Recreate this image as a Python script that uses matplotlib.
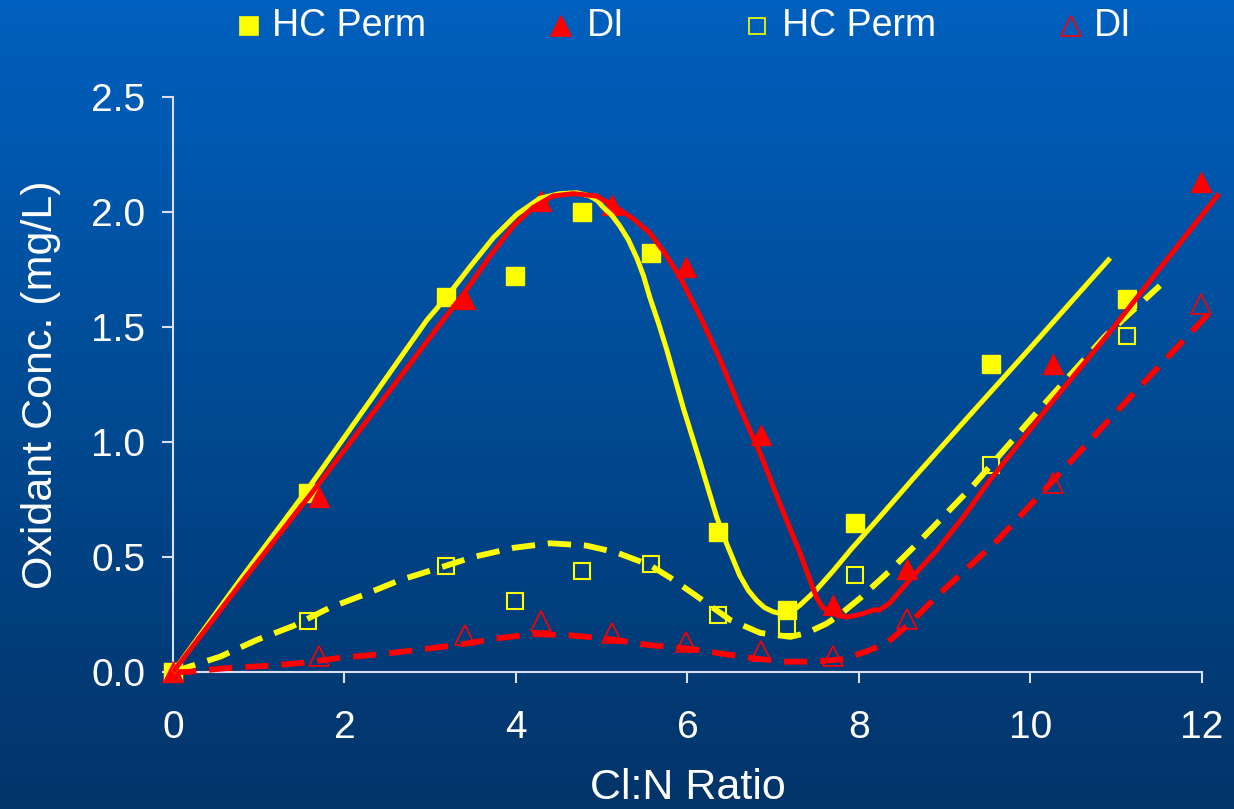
import numpy as np
import matplotlib
matplotlib.use("Agg")
import matplotlib.pyplot as plt
from matplotlib.lines import Line2D
from matplotlib.colors import LinearSegmentedColormap

plt.rcParams['font.family'] = ['Liberation Sans', 'DejaVu Sans']

# measured points
x_hc = [0, 1.58, 3.18, 3.99, 4.77, 5.57, 6.36, 7.16, 7.95, 9.54, 11.13]
y_hc_filled = [0, 0.78, 1.63, 1.72, 2.00, 1.82, 0.61, 0.27, 0.65, 1.34, 1.62]
y_hc_open = [0, 0.22, 0.46, 0.31, 0.44, 0.47, 0.25, 0.20, 0.42, 0.90, 1.46]

x_di = [0, 1.70, 3.40, 4.29, 5.12, 5.98, 6.86, 7.70, 8.56, 10.26, 11.99]
y_di_filled = [0, 0.76, 1.62, 2.05, 2.03, 1.76, 1.03, 0.29, 0.45, 1.34, 2.13]
y_di_open = [0, 0.07, 0.16, 0.22, 0.17, 0.13, 0.09, 0.07, 0.23, 0.82, 1.60]

# fitted curves
cx_hc_solid = [0, 0.8, 1.58, 2.3, 2.96, 3.19, 3.46, 3.74, 4.01, 4.28, 4.51, 4.71, 4.86,
               4.95, 5.02, 5.12, 5.21, 5.31, 5.41, 5.49, 5.56, 5.66, 5.76, 5.95, 6.15,
               6.34, 6.46, 6.61, 6.71, 6.81, 6.90, 7.00, 7.08, 7.16, 7.23, 7.31, 7.41,
               7.51, 7.70, 7.90, 8.28, 8.63, 9.3, 10.0, 10.5, 10.93]
cy_hc_solid = [0, 0.41, 0.80, 1.18, 1.53, 1.63, 1.76, 1.89, 1.99, 2.06, 2.08, 2.084, 2.07,
               2.05, 2.02, 1.985, 1.94, 1.88, 1.80, 1.72, 1.63, 1.52, 1.40, 1.15, 0.91,
               0.675, 0.555, 0.42, 0.355, 0.31, 0.28, 0.262, 0.255, 0.256, 0.267, 0.29, 0.325,
               0.36, 0.44, 0.53, 0.69, 0.84, 1.12, 1.41, 1.62, 1.80]

cx_di_solid = [0, 0.8, 1.6, 2.4, 3.15, 3.42, 3.70, 3.97, 4.20, 4.43, 4.67, 4.94, 5.17,
               5.37, 5.56, 5.72, 5.91, 6.15, 6.38, 6.61, 6.85, 7.08, 7.31, 7.43, 7.51,
               7.58, 7.66, 7.76, 7.86, 7.96, 8.05, 8.17, 8.24, 8.36, 8.59, 8.91, 9.22,
               9.53, 10.2, 10.93, 11.5, 12.2]
cy_di_solid = [0, 0.39, 0.77, 1.16, 1.53, 1.66, 1.81, 1.94, 2.02, 2.07, 2.08, 2.07, 2.02,
               1.97, 1.91, 1.83, 1.72, 1.545, 1.36, 1.15, 0.95, 0.73, 0.52, 0.40, 0.32,
               0.28, 0.26, 0.245, 0.24, 0.245, 0.255, 0.27, 0.27, 0.30, 0.40, 0.53, 0.675,
               0.835, 1.15, 1.48, 1.75, 2.08]

cx_hc_dash = [0, 0.08, 0.55, 0.98, 1.40, 1.83, 2.22, 2.65, 3.08, 3.50, 3.97, 4.40, 4.82,
              5.17, 5.56, 5.80, 6.07, 6.50, 6.85, 7.20, 7.39, 7.62, 7.78, 8.01, 8.36,
              8.71, 9.02, 9.33, 10.1, 10.87, 11.16, 11.51]
cy_hc_dash = [0, 0.01, 0.067, 0.14, 0.20, 0.28, 0.335, 0.40, 0.45, 0.50, 0.54, 0.56, 0.55,
              0.52, 0.465, 0.41, 0.34, 0.226, 0.17, 0.153, 0.17, 0.21, 0.25, 0.32, 0.44,
              0.57, 0.69, 0.81, 1.14, 1.46, 1.56, 1.68]

cx_di_dash = [0, 0.16, 0.59, 1.05, 1.52, 1.95, 2.41, 2.84, 3.31, 3.77, 4.20, 4.63, 5.10,
              5.56, 5.99, 6.40, 6.77, 7.12, 7.47, 7.82, 8.09, 8.32, 8.59, 8.91, 9.26,
              9.61, 10.26, 11.0, 11.78, 12.11]
cy_di_dash = [0, 0.0, 0.016, 0.026, 0.04, 0.062, 0.077, 0.096, 0.117, 0.146, 0.165, 0.16, 0.143,
              0.117, 0.103, 0.08, 0.06, 0.045, 0.045, 0.056, 0.09, 0.125, 0.21, 0.33, 0.45,
              0.57, 0.83, 1.13, 1.44, 1.57]

x_ticks = [0, 2, 4, 6, 8, 10, 12]
y_ticks = [0.0, 0.5, 1.0, 1.5, 2.0, 2.5]

YELLOW = '#FFFF00'
RED = '#FF0000'
AXIS = '#D8E0F0'

fig = plt.figure(figsize=(12.34, 8.09), dpi=100)

# gradient background
bg = fig.add_axes([0, 0, 1, 1], zorder=-10)
cmap = LinearSegmentedColormap.from_list('bg', ['#0060BF', '#004A93', '#033469'])
bg.imshow(np.linspace(0, 1, 256).reshape(-1, 1), aspect='auto', cmap=cmap,
          extent=[0, 1, 0, 1])
bg.set_axis_off()

ax = fig.add_axes([0.1402, 0.1693, 0.8338, 0.7107])
ax.patch.set_alpha(0)

# markers
ax.plot(x_hc, y_hc_open, 's', ms=12, mfc='none', mec=YELLOW, mew=1.5, zorder=3, clip_on=False)
ax.plot(x_di, y_di_open, '^', ms=14, mfc='none', mec=RED, mew=1.2, zorder=3, clip_on=False)
ax.plot(x_hc, y_hc_filled, 's', ms=13, color=YELLOW, zorder=3, clip_on=False)
ax.plot(x_di, y_di_filled, '^', ms=15, color=RED, zorder=3, clip_on=False)

# curves
ax.plot(cx_hc_dash, cy_hc_dash, color=YELLOW, lw=4.2, dashes=(4, 2.2), zorder=4, clip_on=False)
ax.plot(cx_di_dash, cy_di_dash, color=RED, lw=4.2, dashes=(4, 2.2), zorder=4, clip_on=False)
ax.plot(cx_hc_solid, cy_hc_solid, color=YELLOW, lw=3.6, zorder=5, clip_on=False,
        solid_joinstyle='round', solid_capstyle='butt')
ax.plot(cx_di_solid, cy_di_solid, color=RED, lw=3.6, zorder=5, clip_on=False,
        solid_joinstyle='round', solid_capstyle='butt')

ax.set_xlim(0, 12)
ax.set_ylim(0, 2.5)
ax.set_xticks(x_ticks)
ax.set_yticks(y_ticks)
ax.set_yticklabels([f'{v:.1f}' for v in y_ticks])
for s in ['top', 'right']:
    ax.spines[s].set_visible(False)
for s in ['left', 'bottom']:
    ax.spines[s].set_color(AXIS)
    ax.spines[s].set_linewidth(1.5)
ax.tick_params(axis='both', colors=AXIS, length=8, width=1.5, direction='out',
               labelsize=28, labelcolor='white')
ax.tick_params(axis='x', pad=19)
ax.tick_params(axis='y', pad=12)

ax.set_xlabel('Cl:N Ratio', fontsize=31, color='white', labelpad=16)
ax.set_ylabel('Oxidant Conc. (mg/L)', fontsize=31, color='white', labelpad=22)

# legend along the top
entries = [
    (0.2018, 0.2204, 's', YELLOW, YELLOW, 'HC Perm', 13),
    (0.4546, 0.4757, '^', RED, RED, 'DI', 15),
    (0.6134, 0.6337, 's', 'none', YELLOW, 'HC Perm', 12),
    (0.8679, 0.8865, '^', 'none', RED, 'DI', 15),
]
for xm, xt, mk, fc, ec, label, ms in entries:
    fig.add_artist(Line2D([xm], [0.968], marker=mk, ms=ms, mfc=fc, mec=ec,
                          mew=1.2, ls='none', transform=fig.transFigure))
    fig.text(xt, 0.968, label, fontsize=27, color='white',
             ha='left', va='center')

fig.savefig('out.png', dpi=100)
